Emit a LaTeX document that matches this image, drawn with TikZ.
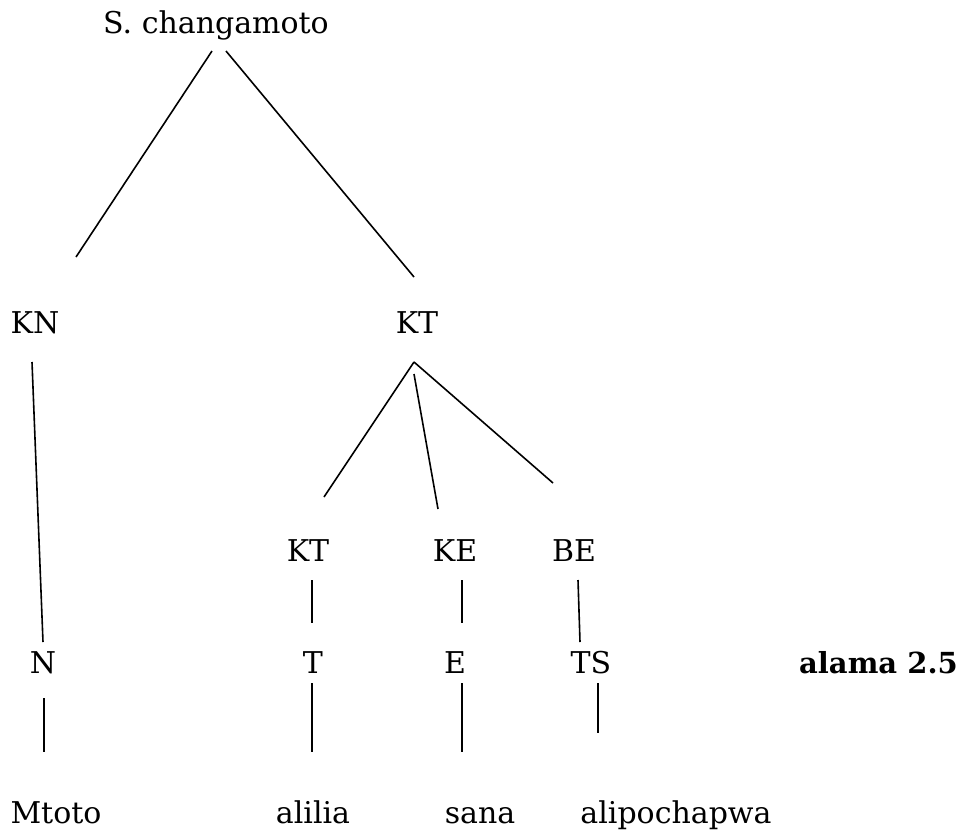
\documentclass[tikz,border=0pt]{standalone}
\usepackage{fontspec}
\setmainfont{DejaVu Serif}
\usetikzlibrary{calc}
\tikzstyle{every node}=[inner sep=0pt, anchor=base]

\begin{document}
\begin{tikzpicture}[
        x=1pt, y=-1pt,
        category/.style={
                font=\fontsize{30}{35}\selectfont
            },
        word/.style={
                font=\fontsize{30}{35}\selectfont
            },
        caption/.style={
                anchor=base east,
                font=\fontsize{29}{34}\selectfont\bfseries
            },
        branch/.style={
                line width=1.6pt
            }
    ]
    \useasboundingbox (0,0) rectangle (961,831);
    % Sentence
    \node[category] (sc) at (216,33) {S. changamoto};
    % Phrases
    \node[category] (kn) at (35,333) {KN};
    \node[category] (kt) at (417,333) {KT};
    \node[category] (kt2) at (308,561) {KT};
    \node[category] (ke) at (455,561) {KE};
    \node[category] (be) at (574,561) {BE};
    % Word classes
    \node[category] (n) at (43,673) {N};
    \node[category] (t) at (313,673) {T};
    \node[category] (e) at (455,673) {E};
    \node[category] (ts) at (591,673) {TS};
    \node[caption] (alama) at (958,673) {alama 2.5};
    % Words
    \node[word] (mtoto) at (56,823) {Mtoto};
    \node[word] (alilia) at (313,823) {alilia};
    \node[word] (sana) at (480,823) {sana};
    \node[word] (alip) at (676,823) {alipochapwa};

    % Branches
    \draw[branch] ($(sc.base)+(-4,18)$) -- ($(kn.base)+(41,-76)$);
    \draw[branch] ($(sc.base)+(10,18)$) -- ($(kt.base)+(-3,-56)$);
    \draw[branch] ($(kn.base)+(-3,29)$) -- ($(n.base)+(0,-31)$);
    \draw[branch] ($(kt.base)+(-3,29)$) -- ($(kt2.base)+(16,-64)$);
    \draw[branch] ($(kt.base)+(-3,41)$) -- ($(ke.base)+(-17,-52)$);
    \draw[branch] ($(kt.base)+(-3,29)$) -- ($(be.base)+(-21,-78)$);
    \draw[branch] ($(kt2.base)+(4,19)$) -- ($(t.base)+(-1,-50)$);
    \draw[branch] ($(ke.base)+(7,19)$) -- ($(e.base)+(7,-50)$);
    \draw[branch] ($(be.base)+(4,19)$) -- ($(ts.base)+(-11,-31)$);
    \draw[branch] ($(n.base)+(1,25)$) -- ($(mtoto.base)+(-12,-71)$);
    \draw[branch] ($(t.base)+(-1,10)$) -- ($(alilia.base)+(-1,-71)$);
    \draw[branch] ($(e.base)+(7,10)$) -- ($(sana.base)+(-18,-71)$);
    \draw[branch] ($(ts.base)+(7,10)$) -- ($(alip.base)+(-78,-90)$);
\end{tikzpicture}
\end{document}
